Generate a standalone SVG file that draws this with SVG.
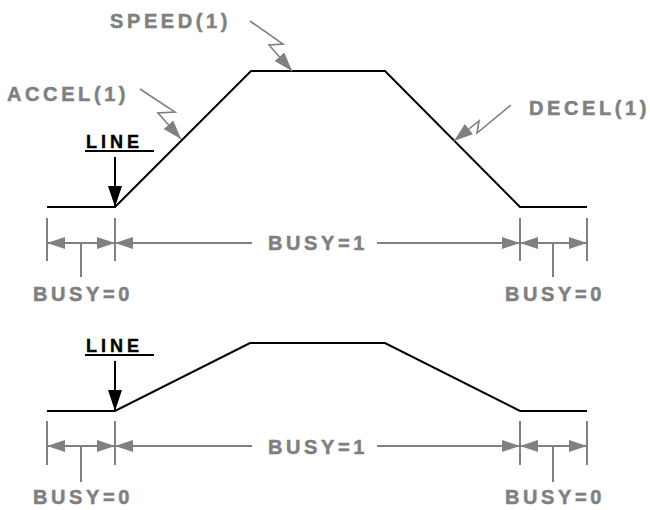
<svg xmlns="http://www.w3.org/2000/svg" width="650" height="510" viewBox="0 0 650 510">
<style>
.bg{fill:#ffffff}
.prof{fill:none;stroke:#000;stroke-width:2;stroke-linejoin:miter}
.lbl{font-family:"Liberation Sans",Arial,Helvetica,sans-serif;font-weight:700;font-size:20px;letter-spacing:3.6px;fill:#808080;stroke:#808080;stroke-width:0.5}
.line-lbl{font-family:"Liberation Sans",Arial,Helvetica,sans-serif;font-weight:700;font-size:18px;letter-spacing:4px;fill:#000;stroke:#000;stroke-width:0.4}
.ul{stroke:#000;stroke-width:2}
.dim{stroke:#808080;stroke-width:2;fill:none}
.bolt{stroke:#808080;stroke-width:1.6;fill:none;stroke-linejoin:miter}
.larrow{stroke:#000;stroke-width:2;fill:none}
</style>
<defs>
<marker id="ga" markerUnits="userSpaceOnUse" markerWidth="20" markerHeight="13" refX="19" refY="6.5" orient="auto"><path d="M0,0 L19,6.5 L0,13 z" fill="#808080"/></marker>
<marker id="da" markerUnits="userSpaceOnUse" markerWidth="18" markerHeight="12" refX="18" refY="6" orient="auto-start-reverse"><path d="M0,0 L18,6 L0,12 z" fill="#808080"/></marker>
<marker id="ba" markerUnits="userSpaceOnUse" markerWidth="21" markerHeight="14" refX="21" refY="7" orient="auto"><path d="M0,0 L21,7 L0,14 z" fill="#000"/></marker>
</defs>
<rect class="bg" x="0" y="0" width="650" height="510"/>

<g id="profile-top">
<polyline class="prof" points="47,207 115,207 251,71 385,71 520,207 587,207"/>
</g>
<g id="profile-bottom">
<polyline class="prof" points="47,411 115,411 250,343 385,343 520,411 587,411"/>
</g>

<g id="label-speed"><text class="lbl" x="110" y="28">SPEED(1)</text></g>
<g id="label-accel"><text class="lbl" x="7" y="101">ACCEL(1)</text></g>
<g id="label-decel"><text class="lbl" x="529" y="115">DECEL(1)</text></g>

<g id="line-top">
<text class="line-lbl" x="86" y="148">LINE</text>
<line class="ul" x1="85" y1="151" x2="154" y2="151"/>
</g>
<g id="line-bottom">
<text class="line-lbl" x="86" y="352">LINE</text>
<line class="ul" x1="85" y1="355" x2="154" y2="355"/>
</g>

<g id="busy-top">
<text class="lbl" x="33" y="301">BUSY=0</text>
<text class="lbl" x="268" y="250">BUSY=1</text>
<text class="lbl" x="505" y="301">BUSY=0</text>
</g>
<g id="busy-bottom">
<text class="lbl" x="33" y="504">BUSY=0</text>
<text class="lbl" x="268" y="454">BUSY=1</text>
<text class="lbl" x="505" y="504">BUSY=0</text>
</g>

<g id="connectors">
<polyline class="bolt" points="250,21 283,44 269,45 292,71" marker-end="url(#ga)"/>
<polyline class="bolt" points="140,89 175,112 158,113 181,139" marker-end="url(#ga)"/>
<polyline class="bolt" points="511,105 477,133 479,121 454,141" marker-end="url(#ga)"/>
<line class="larrow" x1="115" y1="157" x2="115" y2="207" marker-end="url(#ba)"/>
<line class="larrow" x1="115" y1="361" x2="115" y2="411" marker-end="url(#ba)"/>
<line class="dim" x1="47" y1="218" x2="47" y2="261"/>
<line class="dim" x1="115" y1="218" x2="115" y2="261"/>
<line class="dim" x1="520" y1="218" x2="520" y2="261"/>
<line class="dim" x1="587" y1="218" x2="587" y2="261"/>
<line class="dim" x1="47" y1="243" x2="115" y2="243" marker-start="url(#da)" marker-end="url(#da)"/>
<line class="dim" x1="81" y1="243" x2="81" y2="277"/>
<line class="dim" x1="520" y1="243" x2="587" y2="243" marker-start="url(#da)" marker-end="url(#da)"/>
<line class="dim" x1="553" y1="243" x2="553" y2="277"/>
<line class="dim" x1="252" y1="243" x2="115" y2="243" marker-end="url(#da)"/>
<line class="dim" x1="377" y1="243" x2="520" y2="243" marker-end="url(#da)"/>
<line class="dim" x1="47" y1="421" x2="47" y2="465"/>
<line class="dim" x1="115" y1="421" x2="115" y2="465"/>
<line class="dim" x1="520" y1="421" x2="520" y2="465"/>
<line class="dim" x1="587" y1="421" x2="587" y2="465"/>
<line class="dim" x1="47" y1="446" x2="115" y2="446" marker-start="url(#da)" marker-end="url(#da)"/>
<line class="dim" x1="81" y1="446" x2="81" y2="482"/>
<line class="dim" x1="520" y1="446" x2="587" y2="446" marker-start="url(#da)" marker-end="url(#da)"/>
<line class="dim" x1="553" y1="446" x2="553" y2="482"/>
<line class="dim" x1="252" y1="446" x2="115" y2="446" marker-end="url(#da)"/>
<line class="dim" x1="377" y1="446" x2="520" y2="446" marker-end="url(#da)"/>
</g>
</svg>
